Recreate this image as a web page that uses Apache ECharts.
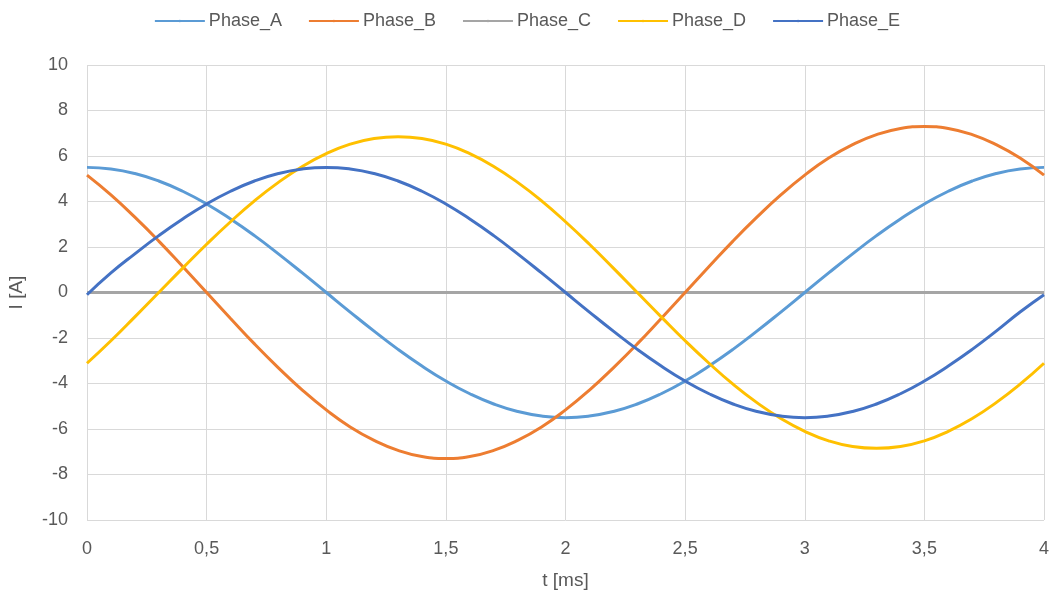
<!DOCTYPE html>
<html>
<head>
<meta charset="utf-8">
<script src="https://cdn.jsdelivr.net/npm/echarts@6/dist/echarts.min.js"></script>
<style>html,body{margin:0;padding:0;background:#fff;}#c{width:1054px;height:599px;}</style>
</head>
<body>
<div id="c"></div>
<script>
const t = [0,0.1,0.2,0.3,0.4,0.5,0.6,0.7,0.8,0.9,1,1.1,1.2,1.3,1.4,1.5,1.6,1.7,1.8,1.9,2,2.1,2.2,2.3,2.4,2.5,2.6,2.7,2.8,2.9,3,3.1,3.2,3.3,3.4,3.5,3.6,3.7,3.8,3.9,4];
const phaseA = [5.5,5.43,5.23,4.9,4.45,3.89,3.23,2.5,1.7,0.86,0,-0.86,-1.7,-2.5,-3.23,-3.89,-4.45,-4.9,-5.23,-5.43,-5.5,-5.43,-5.23,-4.9,-4.45,-3.89,-3.23,-2.5,-1.7,-0.86,0,0.86,1.7,2.5,3.23,3.89,4.45,4.9,5.23,5.43,5.5];
const phaseB = [5.16,4.29,3.31,2.26,1.14,0,-1.14,-2.26,-3.31,-4.29,-5.16,-5.91,-6.5,-6.94,-7.21,-7.3,-7.21,-6.94,-6.5,-5.91,-5.16,-4.29,-3.31,-2.26,-1.14,0,1.14,2.26,3.31,4.29,5.16,5.91,6.5,6.94,7.21,7.3,7.21,6.94,6.5,5.91,5.16];
const phaseC = [0,0,0,0,0,0,0,0,0,0,0,0,0,0,0,0,0,0,0,0,0,0,0,0,0,0,0,0,0,0,0,0,0,0,0,0,0,0,0,0,0];
const phaseD = [-3.11,-2.12,-1.07,0,1.07,2.12,3.11,4.03,4.84,5.54,6.1,6.52,6.77,6.85,6.77,6.52,6.1,5.54,4.84,4.03,3.11,2.12,1.07,0,-1.07,-2.12,-3.11,-4.03,-4.84,-5.54,-6.1,-6.52,-6.77,-6.85,-6.77,-6.52,-6.1,-5.54,-4.84,-4.03,-3.11];
const phaseE = [-0.1,0.86,1.7,2.5,3.23,3.89,4.45,4.9,5.23,5.43,5.5,5.43,5.23,4.9,4.45,3.89,3.23,2.5,1.7,0.86,0,-0.86,-1.7,-2.5,-3.23,-3.89,-4.45,-4.9,-5.23,-5.43,-5.5,-5.43,-5.23,-4.9,-4.45,-3.89,-3.23,-2.5,-1.7,-0.86,-0.1];
const seriesNames = ['Phase_A','Phase_B','Phase_C','Phase_D','Phase_E'];
const seriesData = [phaseA, phaseB, phaseC, phaseD, phaseE];
const colors = ['#5B9BD5','#ED7D31','#A5A5A5','#FFC000','#4472C4'];

const font = 'Liberation Sans';
const chart = echarts.init(document.getElementById('c'));
chart.setOption({
  animation: false,
  color: colors,
  textStyle: {fontFamily: font},
  legend: {
    top: 7, left: 'center', itemWidth: 50, itemHeight: 3, itemGap: 26,
    textStyle: {fontSize: 18, color: '#595959', fontFamily: font, padding: [0, 0, 0, -1]}
  },
  grid: {left: 87, right: 10, top: 65, bottom: 79, containLabel: false, outerBoundsMode: 'none'},
  xAxis: {
    type: 'value', min: 0, max: 4, interval: 0.5,
    name: 't [ms]', nameLocation: 'middle', nameGap: 51,
    nameTextStyle: {fontSize: 19, color: '#595959', fontFamily: font},
    axisLine: {show: false}, axisTick: {show: false},
    axisLabel: {fontSize: 18, color: '#595959', margin: 20, formatter: v => String(v).replace('.', ',')},
    splitLine: {show: true, lineStyle: {color: '#D9D9D9', width: 1}}
  },
  yAxis: {
    type: 'value', min: -10, max: 10, interval: 2,
    name: 'I [A]', nameLocation: 'middle', nameGap: 61, nameRotate: 90,
    nameTextStyle: {fontSize: 19, color: '#595959', fontFamily: font},
    axisLine: {show: false}, axisTick: {show: false},
    axisLabel: {fontSize: 18, color: '#595959', margin: 19},
    splitLine: {show: true, lineStyle: {color: '#D9D9D9', width: 1}}
  },
  series: seriesNames.map((n, i) => ({
    name: n, type: 'line', smooth: true, symbol: 'none', showSymbol: false,
    lineStyle: {width: 3, color: colors[i]}, itemStyle: {color: colors[i]},
    z: i === 2 ? 1 : 2 + i,
    data: t.map((x, j) => [x, seriesData[i][j]])
  }))
});
</script>
</body>
</html>
